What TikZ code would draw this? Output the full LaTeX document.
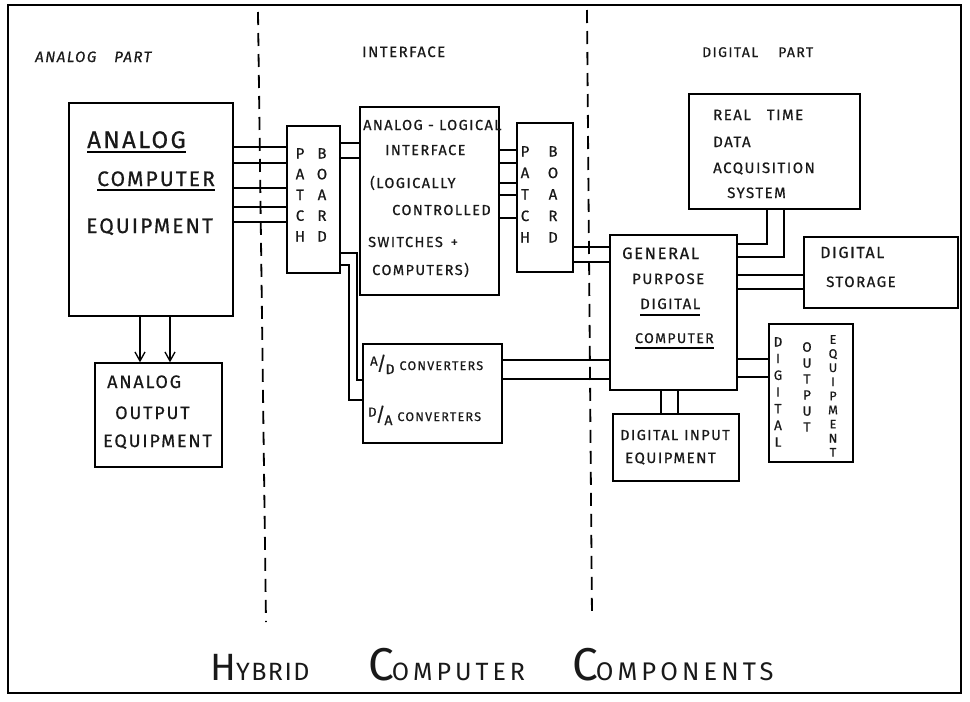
\documentclass[tikz,border=0pt]{standalone}
\usepackage{fontspec}
\setmainfont{Fira Sans}[LetterSpace=10, FakeBold=0.6]
\newfontfamily\titlefont{Fira Sans}[LetterSpace=6]
\newfontfamily\titlefontw{Fira Sans}[LetterSpace=16]
\usetikzlibrary{arrows.meta}
\tikzset{
  box/.style={draw, line width=1.4pt, inner sep=0pt, rectangle},
  lbl/.style={anchor=base west, inner sep=0pt, text=black!90},
  col/.style={anchor=north, inner sep=0pt, align=center, text=black!90},
  wire/.style={line width=1.3pt},
  uline/.style={line width=1.2pt},
  dashline/.style={line width=1.8pt, dash pattern=on 13pt off 8pt},
  f12/.style={font=\fontsize{12.5}{14}\selectfont},
  f14/.style={font=\fontsize{14}{16}\selectfont},
  f15/.style={font=\fontsize{15}{17}\selectfont},
  f16/.style={font=\fontsize{16}{18}\selectfont},
  f18/.style={font=\fontsize{18}{20}\selectfont},
  f21/.style={font=\fontsize{21}{23}\selectfont},
  f24/.style={font=\fontsize{24}{26}\selectfont},
  barb/.style={-{Straight Barb[length=9pt,width=10pt,line width=1.3pt]}}
}
\newcommand{\frc}[2]{\raisebox{4.5pt}{\fontsize{13}{13}\selectfont #1}\kern-1pt{\fontsize{19}{19}\selectfont/}\kern-1pt\raisebox{-4pt}{\fontsize{14}{14}\selectfont #2}}
\begin{document}
\begin{tikzpicture}[x=1pt,y=-1pt]
\useasboundingbox[fill=white] (0,0) rectangle (970,702);
% frame
\draw[line width=2.4pt] (8,5) rectangle (961,693);
% dashed separators
\draw[dashline] (258,12) -- (266,622);
\draw[dashline] (587,10) -- (592,618);

% section labels
\node[lbl,font=\fontsize{15}{17}\selectfont\itshape] (lanalog) at (35,62) {ANALOG\hspace{18pt}PART};
\node[lbl,font=\fontsize{15}{17}\selectfont] (linter) at (362,57) {INTERFACE};
\node[lbl,font=\fontsize{14}{16}\selectfont] (ldig) at (702,57) {DIGITAL\hspace{20pt}PART};

% boxes
\node[box, minimum width=164pt, minimum height=213pt] (ace) at (151,209.5) {};
\node[box, minimum width=127pt, minimum height=104pt] (aoe) at (158.5,415) {};
\node[box, minimum width=53pt, minimum height=147pt] (pb1) at (313.5,199.5) {};
\node[box, minimum width=139pt, minimum height=188pt] (ali) at (429.5,201) {};
\node[box, minimum width=56pt, minimum height=149pt] (pb2) at (545,197.5) {};
\node[box, minimum width=127pt, minimum height=155pt] (gp) at (673.5,312.5) {};
\node[box, minimum width=171pt, minimum height=115pt] (rt) at (774.5,151.5) {};
\node[box, minimum width=154pt, minimum height=71pt] (ds) at (881,272.5) {};
\node[box, minimum width=139pt, minimum height=99pt] (adc) at (432.5,393.5) {};
\node[box, minimum width=84pt, minimum height=138pt] (doe) at (811,393) {};
\node[box, minimum width=126pt, minimum height=67pt] (die) at (676,447.5) {};

% analog computer equipment text
\node[lbl,f24] (ace1) at (87,148) {ANALOG};
\node[lbl,f21] (ace2) at (97,186) {COMPUTER};
\node[lbl,f21] (ace3) at (86,233) {EQUIPMENT};
\draw[uline] ([yshift=-4pt]ace1.base west) -- ([yshift=-4pt]ace1.base east);
\draw[uline] ([yshift=-4pt]ace2.base west) -- ([yshift=-4pt]ace2.base east);

% analog output equipment text
\node[lbl,f18] (aoe1) at (107,388) {ANALOG};
\node[lbl,f18] (aoe2) at (115,419) {OUTPUT};
\node[lbl,f18] (aoe3) at (103,447) {EQUIPMENT};

% patch boards
\node[col,font=\fontsize{15}{20.75}\selectfont] (pb1a) at (300,148) {P\\A\\T\\C\\H};
\node[col,font=\fontsize{15}{20.75}\selectfont] (pb1b) at (322,148) {B\\O\\A\\R\\D};
\node[col,font=\fontsize{15}{21.5}\selectfont] (pb2a) at (525,146) {P\\A\\T\\C\\H};
\node[col,font=\fontsize{15}{21.5}\selectfont] (pb2b) at (553,146) {B\\O\\A\\R\\D};

% analog-logical interface text
\node[lbl,font=\fontsize{14.5}{16}\selectfont] (ali1) at (363,130) {ANALOG - LOGICAL};
\node[lbl,font=\fontsize{14.5}{16}\selectfont] (ali2) at (385,155) {INTERFACE};
\node[lbl,font=\fontsize{14.5}{16}\selectfont] (ali3) at (370,188) {(LOGICALLY};
\node[lbl,font=\fontsize{14.5}{16}\selectfont] (ali4) at (392,215) {CONTROLLED};
\node[lbl,font=\fontsize{14.5}{16}\selectfont] (ali5) at (368,247) {SWITCHES\hspace{8pt}+};
\node[lbl,font=\fontsize{14.5}{16}\selectfont] (ali6) at (372,275) {COMPUTERS)};

% general purpose digital computer text
\node[lbl,font=\fontsize{16.5}{18}\selectfont] (gp1) at (622,259) {GENERAL};
\node[lbl,f15] (gp2) at (632,284) {PURPOSE};
\node[lbl,f15] (gp3) at (640,309) {DIGITAL};
\node[lbl,f14] (gp4) at (635,343) {COMPUTER};
\draw[uline] ([yshift=-6pt]gp3.base west) -- ([yshift=-6pt]gp3.base east);
\draw[uline] ([yshift=-5pt]gp4.base west) -- ([yshift=-5pt]gp4.base east);

% real time data acquisition text
\node[lbl,f15] (rt1) at (713,120) {REAL\hspace{16pt}TIME};
\node[lbl,f15] (rt2) at (713,147) {DATA};
\node[lbl,f15] (rt3) at (713,173) {ACQUISITION};
\node[lbl,f15] (rt4) at (727,198) {SYSTEM};

% digital storage
\node[lbl,f16] (ds1) at (820,258) {DIGITAL};
\node[lbl,f15] (ds2) at (826,287) {STORAGE};

% A/D, D/A converters
\node[lbl,f12] (adc1) at (370,370) {\frc{A}{D}\hspace{5pt}CONVERTERS};
\node[lbl,f12] (adc2) at (368,421) {\frc{D}{A}\hspace{5pt}CONVERTERS};

% digital output equipment
\node[col,font=\fontsize{13.5}{16.7}\selectfont] (doe1) at (778,337) {D\\I\\G\\I\\T\\A\\L};
\node[col,font=\fontsize{13.5}{16}\selectfont] (doe2) at (807,342) {O\\U\\T\\P\\U\\T};
\node[col,font=\fontsize{12.5}{14.1}\selectfont] (doe3) at (833,335) {E\\Q\\U\\I\\P\\M\\E\\N\\T};

% digital input equipment
\node[lbl,font=\fontsize{14.5}{16}\selectfont] (die1) at (620,440) {DIGITAL\hspace{6pt}INPUT};
\node[lbl,f15] (die2) at (625,463) {EQUIPMENT};

% title
\node[lbl] (ti1) at (210,680) {\titlefont\fontsize{38}{40}\selectfont H\fontsize{25}{26}\selectfont YBRID};
\node[lbl] (ti2) at (368,680) {\titlefontw\fontsize{46}{48}\selectfont C\kern-2pt\fontsize{25}{26}\selectfont OMPUTER};
\node[lbl] (ti3) at (572,680) {\titlefontw\fontsize{46}{48}\selectfont C\kern-2pt\fontsize{25.5}{26}\selectfont OMPONENTS};

% wires: analog computer -> patch board
\foreach \yy in {147,163,188,207,222} \draw[wire] (ace.east |- 0,\yy) -- (pb1.west |- 0,\yy);
% patch board -> analog-logical interface
\foreach \yy in {143,158} \draw[wire] (pb1.east |- 0,\yy) -- (ali.west |- 0,\yy);
% interface -> patch board 2
\foreach \yy in {150,163,183,195,218} \draw[wire] (ali.east |- 0,\yy) -- (pb2.west |- 0,\yy);
% patch board 2 -> general purpose
\foreach \yy in {247,262} \draw[wire] (pb2.east |- 0,\yy) -- (gp.west |- 0,\yy);
% patch board 1 -> converters
\draw[wire] (pb1.east |- 0,253) -- (357,253) |- (adc.west |- 0,380);
\draw[wire] (pb1.east |- 0,265) -- (349,265) |- (adc.west |- 0,400);
% converters -> general purpose
\foreach \yy in {360,379} \draw[wire] (adc.east |- 0,\yy) -- (gp.west |- 0,\yy);
% real time -> general purpose
\draw[wire] (rt.south -| 767,0) |- (gp.east |- 0,244);
\draw[wire] (rt.south -| 784,0) |- (gp.east |- 0,257);
% general purpose -> storage
\foreach \yy in {275,289} \draw[wire] (gp.east |- 0,\yy) -- (ds.west |- 0,\yy);
% general purpose -> digital output
\foreach \yy in {359,377} \draw[wire] (gp.east |- 0,\yy) -- (doe.west |- 0,\yy);
% general purpose -> digital input
\foreach \xx in {661,678} \draw[wire] (gp.south -| \xx,0) -- (die.north -| \xx,0);
% analog computer -> analog output
\foreach \xx in {140,170} \draw[wire,barb] (ace.south -| \xx,0) -- (aoe.north -| \xx,0);
\end{tikzpicture}
\end{document}
